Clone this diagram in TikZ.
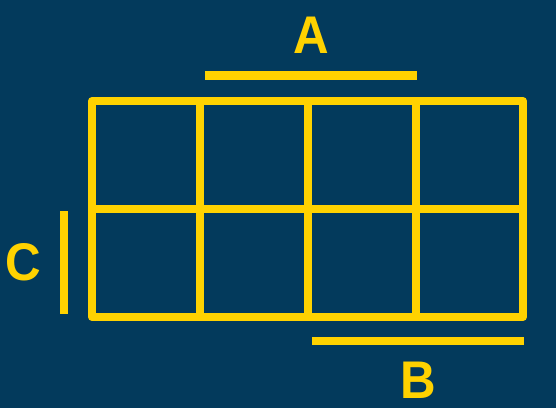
\documentclass[tikz,border=0pt]{standalone}
\usepackage{fontspec}
\setmainfont{Liberation Sans}
\definecolor{bg}{HTML}{033A5C}
\definecolor{kyellow}{HTML}{FFD200}
\begin{document}
\begin{tikzpicture}[x=1pt,y=-1pt,
  gridline/.style={draw=kyellow,line width=8pt},
  barline/.style={draw=kyellow,line width=8.5pt},
  lbl/.style={text=kyellow,font=\fontsize{53}{53}\selectfont\bfseries,inner sep=0pt,anchor=center,xscale=0.93}]
\fill[bg] (0,0) rectangle (556,408);
\useasboundingbox (0,0) rectangle (556,408);
% grid
\draw[gridline,line join=round] (92,101) rectangle (523,317);
\foreach \x in {200,308,416} \draw[gridline] (\x,101) -- (\x,317);
\draw[gridline] (92,209) -- (523,209);
% bars
\coordinate (a1) at (205,75.5); \coordinate (a2) at (417,75.5);
\coordinate (b1) at (312,341); \coordinate (b2) at (524,341);
\coordinate (c1) at (64,211); \coordinate (c2) at (64,314);
\draw[barline] (a1) -- (a2);
\draw[barline] (b1) -- (b2);
\draw[barline] (c1) -- (c2);
% labels
\node[lbl] (A) at (311,35) {A};
\node[lbl] (B) at (418,380) {B};
\node[lbl] (C) at (23.5,262.5) {C};
\end{tikzpicture}
\end{document}
